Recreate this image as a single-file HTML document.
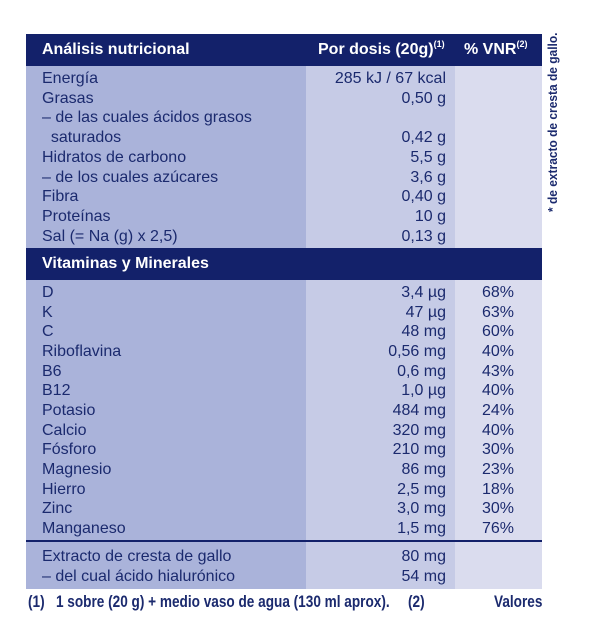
<!DOCTYPE html>
<html><head><meta charset="utf-8">
<style>
body{margin:0;width:590px;height:640px;background:#fff;position:relative;overflow:hidden;font-family:"Liberation Sans",sans-serif;color:#1b2a6e}
.a{position:absolute;white-space:nowrap}
.col1{background:#aab3da}.col2{background:#c6cbe6}.col3{background:#dadcee}
.hdr{background:#13216a;color:#fff;font-weight:bold;font-size:16px}
sup{font-size:9px;line-height:0;vertical-align:7px}
.t{font-size:16px;line-height:20px;position:absolute;white-space:nowrap}
.v{text-align:right;width:200px;left:246px}
.p{text-align:center;width:86px;left:455px}
.foot{font-weight:bold;font-size:17px;transform:scaleX(0.8);transform-origin:left}
</style></head><body>
<div class="a col1" style="left:26px;top:66px;width:280px;height:523px"></div>
<div class="a col2" style="left:306px;top:66px;width:149px;height:523px"></div>
<div class="a col3" style="left:455px;top:66px;width:87px;height:523px"></div>
<div class="a hdr" style="left:26px;top:34px;width:516px;height:32px"></div>
<div class="a hdr" style="left:42px;top:40px;line-height:20px">Análisis nutricional</div>
<div class="a hdr" style="left:318px;top:40px;line-height:20px">Por dosis (20g)<sup>(1)</sup></div>
<div class="a hdr" style="left:464px;top:40px;line-height:20px">% VNR<sup>(2)</sup></div>
<div class="a hdr" style="left:26px;top:248px;width:516px;height:32px"></div>
<div class="a hdr" style="left:42px;top:254px;line-height:20px">Vitaminas y Minerales</div>
<div class="a" style="left:26px;top:540px;width:516px;height:2px;background:#13216a"></div>
<div id="rows"></div>
<div class="a" style="left:553px;top:212px;transform:rotate(-90deg);transform-origin:left top;font-weight:bold;font-size:13px;line-height:14px;margin-left:-7px;width:185px"><span style="display:inline-block;transform:scaleX(0.92);transform-origin:left">* de extracto de cresta de gallo.</span></div>
<div class="a foot" style="left:28px;top:592px">(1)&nbsp;&nbsp; 1 sobre (20 g) + medio vaso de agua (130 ml aprox).</div>
<div class="a foot" style="left:408px;top:592px">(2)</div>
<div class="a foot" style="left:494px;top:592px">Valores</div>
<script>
const labels1=["Energía","Grasas","– de las cuales ácidos grasos","&nbsp; saturados","Hidratos de carbono","– de los cuales azúcares","Fibra","Proteínas","Sal (= Na (g) x 2,5)"];
const vals1=["285 kJ / 67 kcal","0,50 g","","0,42 g","5,5 g","3,6 g","0,40 g","10 g","0,13 g"];
const labels2=["D","K","C","Riboflavina","B6","B12","Potasio","Calcio","Fósforo","Magnesio","Hierro","Zinc","Manganeso"];
const vals2=["3,4 µg","47 µg","48 mg","0,56 mg","0,6 mg","1,0 µg","484 mg","320 mg","210 mg","86 mg","2,5 mg","3,0 mg","1,5 mg"];
const pcts2=["68%","63%","60%","40%","43%","40%","24%","40%","30%","23%","18%","30%","76%"];
const labels3=["Extracto de cresta de gallo","– del cual ácido hialurónico"];
const vals3=["80 mg","54 mg"];
const R=document.getElementById('rows');
function add(cls,left,top,html,name){
  const d=document.createElement('div');
  d.className='t '+cls;
  if(left!==null)d.style.left=left+'px';
  d.style.top=top+'px';
  d.innerHTML=html;
  
  
  R.appendChild(d);
}
function block(L,V,P,y0,step,pre){
  L.forEach((l,i)=>{
    const y=y0+i*step;
    add('',42,y,l,pre+'-label');
    if(V[i])add('v',null,y,V[i],pre+'-value');
    if(P&&P[i])add('p',null,y,P[i],pre+'-percent');
  });
}
block(labels1,vals1,null,69,19.7,'nutrient');
block(labels2,vals2,pcts2,283,19.67,'vitamin');
block(labels3,vals3,null,547,20,'extract');
</script>
</body></html>
